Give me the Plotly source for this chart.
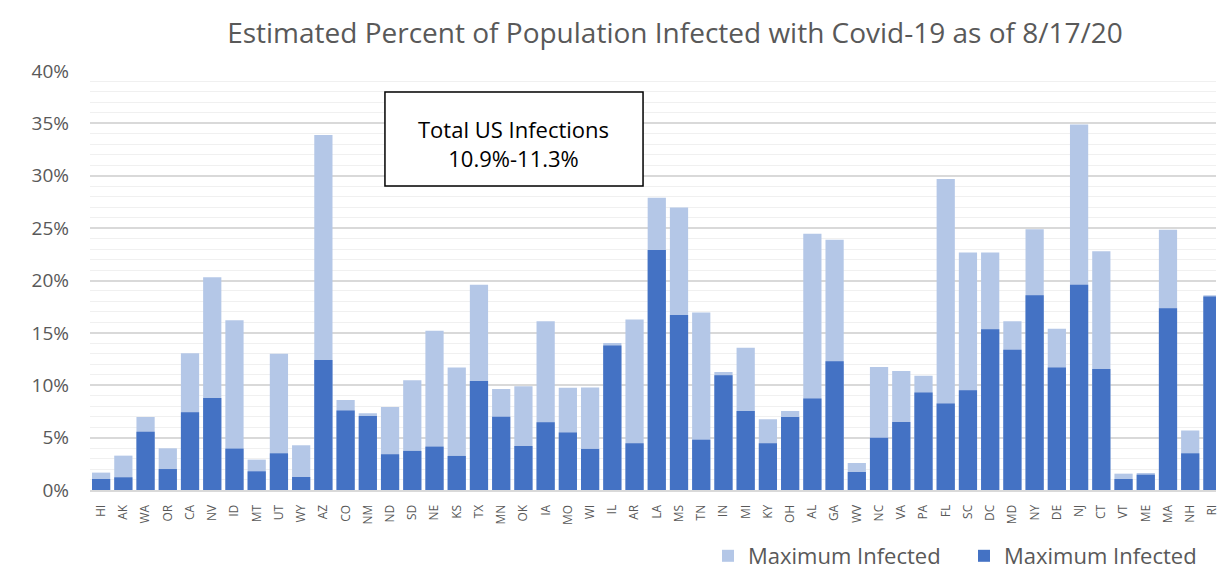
import plotly.graph_objects as go

states = ["HI","AK","WA","OR","CA","NV","ID","MT","UT","WY","AZ","CO","NM","ND","SD","NE","KS","TX",
          "MN","OK","IA","MO","WI","IL","AR","LA","MS","TN","IN","MI","KY","OH","AL","GA","WV",
          "NC","VA","PA","FL","SC","DC","MD","NY","DE","NJ","CT","VT","ME","MA","NH","RI"]

max_infected = [1.66,3.28,6.97,3.98,13.06,20.3,16.2,2.9,13.0,4.27,33.9,8.6,7.32,7.93,10.48,15.2,11.7,19.6,
                9.65,9.9,16.1,9.75,9.78,14.04,16.27,27.9,26.97,16.94,11.27,13.57,6.75,7.55,24.46,23.9,2.58,
                11.75,11.37,10.9,29.7,22.67,22.67,16.1,24.9,15.4,34.9,22.8,1.56,1.62,24.84,5.67,18.6]

min_infected = [1.05,1.21,5.57,2.0,7.42,8.79,3.95,1.78,3.5,1.24,12.4,7.58,7.07,3.41,3.73,4.14,3.25,10.4,
                7.0,4.2,6.46,5.48,3.92,13.8,4.46,22.9,16.7,4.8,10.96,7.55,4.46,6.97,8.73,12.3,1.72,
                5.0,6.5,9.3,8.25,9.52,15.35,13.4,18.6,11.7,19.6,11.56,1.05,1.46,17.36,3.5,18.47]

series_names = ["Maximum Infected", "Maximum Infected"]
title_text = "Estimated Percent of Population Infected with Covid-19 as of 8/17/20"
box_text = "Total US Infections<br>10.9%-11.3%"

LIGHT = "#B4C7E7"
DARK = "#4472C4"
FONT = "Open Sans"
GRAY = "#595959"

fig = go.Figure()
fig.add_trace(go.Bar(x=states, y=max_infected, name=series_names[0], marker_color=LIGHT,
                     marker_line_width=0))
fig.add_trace(go.Bar(x=states, y=min_infected, name=series_names[1], marker_color=DARK,
                     marker_line_width=0))

W, H = 1220, 569
fig.update_layout(
    width=W, height=H,
    barmode="overlay", bargap=0.18,
    plot_bgcolor="white", paper_bgcolor="white",
    font=dict(family=FONT, color=GRAY),
    margin=dict(l=90, r=0, t=71, b=79),
    title=dict(text=title_text, x=675 / W, xanchor="center", xref="container",
               y=1 - 33 / H, yanchor="middle", yref="container",
               font=dict(size=28, color=GRAY, family=FONT)),
    legend=dict(orientation="h", xref="container", yref="container",
                x=708 / W, xanchor="left", y=(H - 556) / H, yanchor="middle",
                font=dict(size=22, color=GRAY), traceorder="normal",
                entrywidth=211, itemwidth=30),
    showlegend=True,
)
fig.update_xaxes(type="category", range=[-0.5, 50.16], tickangle=-90,
                 tickfont=dict(size=12, color=GRAY), showgrid=False,
                 showline=True, linecolor="#D9D9D9", linewidth=2,
                 ticks="", ticklabelstandoff=8, fixedrange=True)
fig.update_yaxes(range=[0, 40], dtick=5, ticksuffix="%",
                 tickfont=dict(size=19, color=GRAY),
                 showgrid=True, gridcolor="#D9D9D9", gridwidth=1.5,
                 minor=dict(dtick=1, showgrid=True, gridcolor="#F0F0F0", gridwidth=1),
                 zeroline=False, ticks="", ticklabelstandoff=20)

fig.add_shape(type="rect", xref="paper", yref="paper",
              x0=(386 - 90) / (W - 90), x1=(645 - 90) / (W - 90),
              y0=(490 - 186) / 419, y1=(490 - 92) / 419,
              line=dict(color="black", width=1.5), fillcolor="white", layer="above")
fig.add_annotation(text=box_text, xref="paper", yref="paper",
                   x=(515.5 - 90) / (W - 90), y=(490 - 143) / 419,
                   showarrow=False, font=dict(size=22, color="black", family=FONT),
                   align="center", xanchor="center", yanchor="middle")

fig.write_html("out.html", config={"displayModeBar": False},
               post_script="document.body.style.margin='0';document.body.style.overflow='hidden';")
